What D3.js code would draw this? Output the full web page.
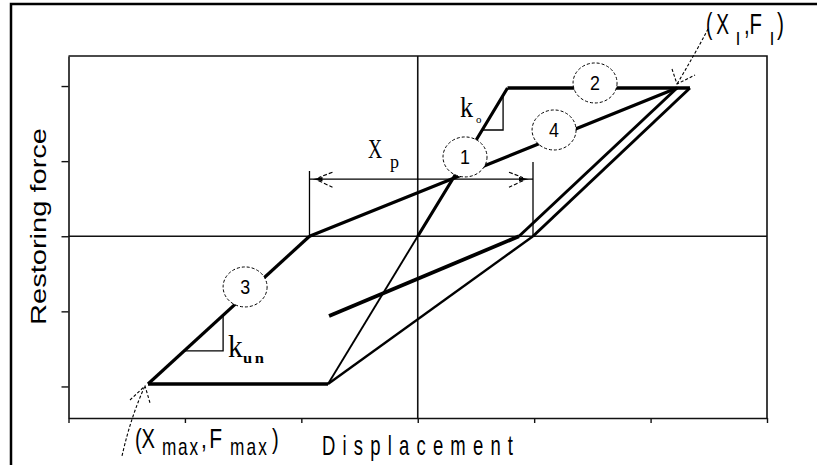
<!DOCTYPE html>
<html>
<head>
<meta charset="utf-8">
<script src="https://cdn.jsdelivr.net/npm/d3@7"></script>
<style>
  body { margin: 0; background: #fff; }
  svg { display: block; }
</style>
</head>
<body>
<svg id="chart" width="817" height="465"></svg>
<script>
// Axis ticks (unlabelled, in normalised units)
const xTicks = [-3, -2, -1, 0, 1, 2, 3];
const yTicks = [-2, -1, 0, 1, 2];

// Hysteresis branches as [displacement, force] pairs
const negPlateau     = [[-2.317, -1.967], [-0.771, -1.967]];
const negUnload      = [[-2.317, -1.967], [-0.930, 0]];          // k_un branch, circle 3
const elasticLower   = [[-0.771, -1.967], [0, 0]];
const elasticUpper   = [[0, 0], [0.303, 0.769], [0.771, 1.974]];   // k_o branch, circle 1
const yieldPlateau   = [[0.771, 1.974], [2.338, 1.974]];           // circle 2
const reloadBranch   = [[-0.930, 0], [0.303, 0.769], [2.227, 1.974]]; // circle 4
const unloadInner    = [[2.227, 1.974], [0.870, 0]];
const unloadOuter    = [[2.338, 1.974], [0.990, 0]];
const pinchBranch    = [[0.990, 0], [-0.771, -1.967]];
const crossBranch    = [[-0.762, -1.062], [0.870, 0]];

// Key points
const peakPoint = [2.227, 1.974];   // (X_l, F_l)
const maxPoint  = [-2.317, -1.967]; // (X_max, F_max)

// X_p dimension: from reload start to outer unloading zero crossing
const xpEnds = [-0.930, 0.990];
const xpLevel = 0.76;
const xpLeftTop = 0.869;
const xpRightTop = 0.989;

// Slope triangles: corner points
const koTriangle  = [[0.553, 1.415], [0.733, 1.415], [0.733, 1.876]];
const kunTriangle = [[-2.008, -1.527], [-1.672, -1.527], [-1.672, -1.050]];

// Numbered branch markers
const markerLabels = ["1", "2", "3", "4"];
const markerPos = [[0.406, 1.056], [1.523, 2.041], [-1.483, -0.675], [1.171, 1.415]];

const svg = d3.select("#chart");

const x = d3.scaleLinear().domain([-3, 3]).range([68.5, 767]);
const y = d3.scaleLinear().domain([-2.42, 2.4]).range([418, 56]);

// outer figure frame
svg.append("rect")
  .attr("x", 11).attr("y", 4).attr("width", 900).attr("height", 600)
  .attr("fill", "none").attr("stroke", "#000").attr("stroke-width", 2.5);

// axes
const gy = svg.append("g")
  .attr("transform", `translate(${x(-3)},0)`)
  .call(d3.axisLeft(y).tickValues(yTicks).tickSize(7).tickSizeOuter(0).tickFormat(""));
const gx = svg.append("g")
  .attr("transform", `translate(0,${y(-2.42)})`)
  .call(d3.axisBottom(x).tickValues(xTicks).tickSize(5).tickSizeOuter(0).tickFormat(""));
[gx, gy].forEach(g => {
  g.selectAll("path.domain").attr("stroke", "#111").attr("stroke-width", 1.6);
  g.selectAll(".tick line").attr("stroke", "#111").attr("stroke-width", 1.4);
});

// top and right edges of plot box
svg.append("path")
  .attr("d", `M${x(-3)},${y(2.4)}H${x(3)}V${y(-2.42)}`)
  .attr("fill", "none").attr("stroke", "#111").attr("stroke-width", 1.6);

// zero lines
svg.append("line")
  .attr("x1", x(-3)).attr("x2", x(3)).attr("y1", y(0)).attr("y2", y(0))
  .attr("stroke", "#111").attr("stroke-width", 1.6);
svg.append("line")
  .attr("x1", x(0)).attr("x2", x(0)).attr("y1", y(2.4)).attr("y2", y(-2.42))
  .attr("stroke", "#111").attr("stroke-width", 1.6);

const line = d3.line().x(d => x(d[0])).y(d => y(d[1]));

function branch(data, w) {
  svg.append("path")
    .attr("d", line(data))
    .attr("fill", "none")
    .attr("stroke", "#000")
    .attr("stroke-width", w)
    .attr("stroke-linejoin", "miter");
}

branch(negPlateau, 3.6);
branch(negUnload, 3.2);
branch(elasticLower, 1.9);
branch(elasticUpper, 3.2);
branch(yieldPlateau, 3.4);
branch(reloadBranch, 3.2);
branch(unloadInner, 3.0);
branch(unloadOuter, 3.0);
branch(pinchBranch, 2.4);
branch(crossBranch, 3.8);

// slope triangles
[koTriangle, kunTriangle].forEach(t => {
  svg.append("path")
    .attr("d", line(t))
    .attr("fill", "none").attr("stroke", "#000").attr("stroke-width", 1.3);
});

// X_p dimension lines
svg.append("line")
  .attr("x1", x(xpEnds[0])).attr("x2", x(xpEnds[0]))
  .attr("y1", y(0)).attr("y2", y(xpLeftTop))
  .attr("stroke", "#000").attr("stroke-width", 1.3);
svg.append("line")
  .attr("x1", x(xpEnds[1])).attr("x2", x(xpEnds[1]))
  .attr("y1", y(0)).attr("y2", y(xpRightTop))
  .attr("stroke", "#000").attr("stroke-width", 1.3);
svg.append("line")
  .attr("x1", x(xpEnds[0])).attr("x2", x(xpEnds[1]))
  .attr("y1", y(xpLevel)).attr("y2", y(xpLevel))
  .attr("stroke", "#000").attr("stroke-width", 1.3);

// arrowheads on the dimension line
function arrowHead(tipX, tipY, dir) {
  svg.append("path")
    .attr("d", `M${tipX},${tipY}L${tipX + dir * 10},${tipY - 2.2}L${tipX + dir * 10},${tipY + 2.2}Z`)
    .attr("fill", "#000");
  svg.append("path")
    .attr("d", `M${tipX + dir * 20},${tipY - 7}L${tipX + dir * 6},${tipY - 1.5}M${tipX + dir * 6},${tipY + 1.5}L${tipX + dir * 20},${tipY + 8}`)
    .attr("fill", "none").attr("stroke", "#000").attr("stroke-width", 1.1)
    .attr("stroke-dasharray", "4,2");
}
arrowHead(x(xpEnds[0]) + 3, y(xpLevel), 1);
arrowHead(x(xpEnds[1]) - 4, y(xpLevel), -1);

// dashed leader arrows pointing at key points
function leader(x0, y0, cx, cy, tx, ty, b1, b2) {
  svg.append("path")
    .attr("d", `M${x0},${y0}Q${cx},${cy} ${tx},${ty}`)
    .attr("fill", "none").attr("stroke", "#000").attr("stroke-width", 1.1)
    .attr("stroke-dasharray", "3,2");
  svg.append("path")
    .attr("d", `M${b1[0]},${b1[1]}L${tx},${ty}L${b2[0]},${b2[1]}`)
    .attr("fill", "none").attr("stroke", "#000").attr("stroke-width", 1.1)
    .attr("stroke-dasharray", "3,2");
}
{
  const tx = x(peakPoint[0]), ty = y(peakPoint[1]) - 4;
  leader(tx + 31, ty - 55, tx + 18, ty - 30, tx, ty, [tx - 5, ty - 15], [tx + 18, ty - 9]);
}
{
  const tx = x(maxPoint[0]) - 3, ty = y(maxPoint[1]) + 2;
  leader(tx - 23, ty + 70, tx - 14, ty + 30, tx, ty, [tx - 15, ty + 14], [tx + 5, ty + 17]);
}

// numbered markers (white-filled dashed ellipses)
const markers = svg.append("g");
markerPos.forEach((p, i) => {
  const g = markers.append("g").attr("transform", `translate(${x(p[0])},${y(p[1])})`);
  g.append("ellipse")
    .attr("rx", 22).attr("ry", 20)
    .attr("fill", "#fff").attr("stroke", "#000").attr("stroke-width", 1)
    .attr("stroke-dasharray", "3,2");
  g.append("text")
    .attr("transform", "scale(0.85,1)")
    .attr("text-anchor", "middle").attr("y", 7.5)
    .attr("font-family", "Liberation Sans, Arial, sans-serif")
    .attr("font-size", 21).attr("fill", "#000")
    .text(markerLabels[i]);
});

// text helper: left edge x, baseline y, horizontal squeeze sx, total width w
function label(px, py, str, size, sx, w, family, weight) {
  const t = svg.append("text")
    .attr("transform", `translate(${px},${py}) scale(${sx},1)`)
    .attr("font-family", family || "Liberation Sans, Arial, sans-serif")
    .attr("font-size", size)
    .attr("font-weight", weight || "normal")
    .attr("fill", "#000")
    .text(str);
  if (w) t.attr("textLength", w / sx).attr("lengthAdjust", "spacing");
  return t;
}

const serif = "Liberation Serif, Times New Roman, serif";

// axis titles
label(322, 455, "Displacement", 28, 0.66, 191);
svg.append("text")
  .attr("transform", `translate(46,${226.5}) rotate(-90)`)
  .attr("text-anchor", "middle")
  .attr("font-family", "Liberation Sans, Arial, sans-serif")
  .attr("font-size", 22.5)
  .attr("textLength", 197).attr("lengthAdjust", "spacingAndGlyphs")
  .attr("fill", "#000")
  .text("Restoring force");

// (X_max, F_max)
label(135, 448, "(X", 28, 0.72, 20);
label(162, 455, "max", 23, 0.75, 36);
label(201, 448, ",F", 28, 0.75, 21);
label(230, 455, "max", 23, 0.75, 37);
label(272, 448, ")", 28, 0.72, 6);

// (X_l, F_l)
label(706, 34, "(X", 29, 0.66, 23);
label(736, 45, "l", 18, 1, 3);
label(744, 34, ",F", 29, 0.7, 18);
label(770, 45, "l", 18, 1, 3);
label(777, 34, ")", 29, 0.72, 6);

// X_p
label(368, 158, "X", 28, 0.7, 14, serif);
label(390, 168, "p", 19, 0.95, 9, serif);

// k_o
label(460, 117, "k", 29, 0.9, 13, serif);
label(476, 123, "o", 11, 1, 6, serif);

// k_un
label(228, 357, "k", 31, 0.95, 15, serif);
label(243, 363, "un", 15, 1.1, 21, serif, "bold");
</script>
</body>
</html>
